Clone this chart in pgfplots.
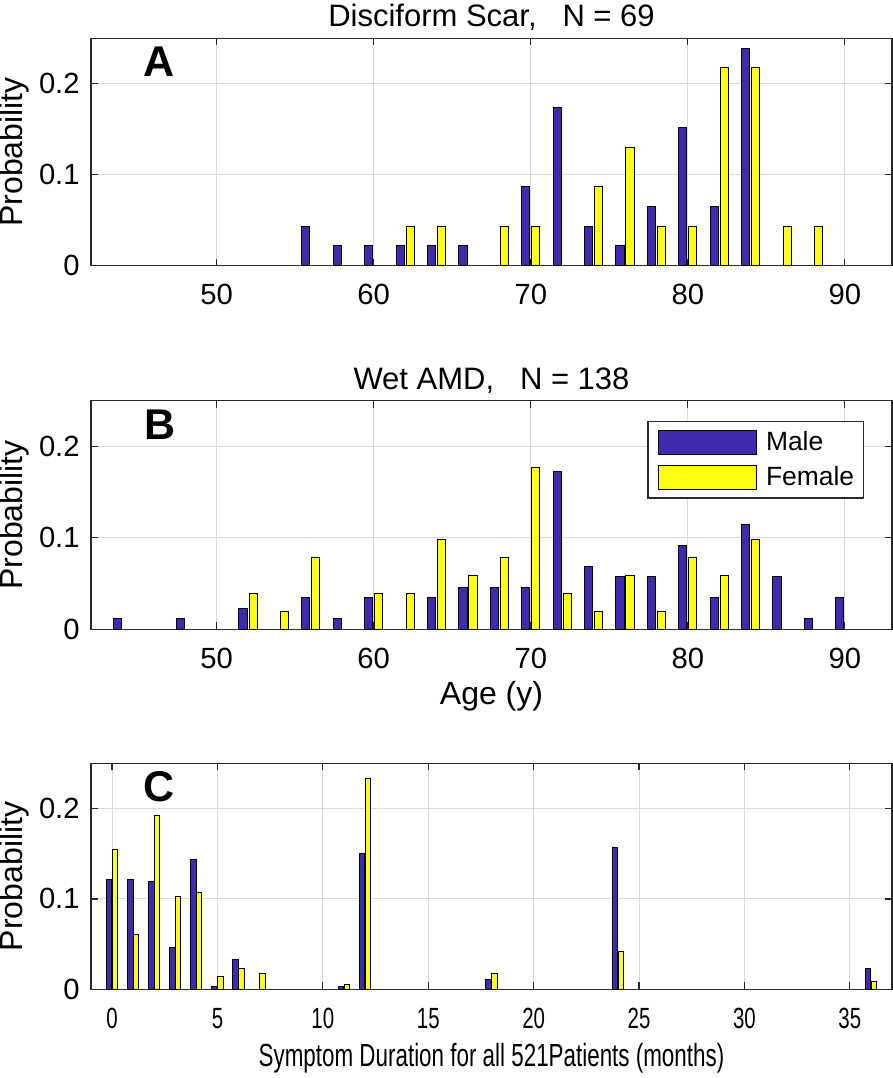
\documentclass[border=0pt]{standalone}
\usepackage{fontspec}
\setmainfont{Liberation Sans}
\newfontfamily\narrowfont{Liberation Sans}[FakeStretch=0.7]
\usepackage{pgfplots}
\pgfplotsset{compat=1.18}
\definecolor{malec}{RGB}{62,42,172}
\definecolor{femc}{RGB}{255,255,17}
\definecolor{axc}{RGB}{40,40,40}
\definecolor{gridc}{RGB}{218,218,218}

\pgfplotsset{
  panel/.style={
    scale only axis, width=400.5pt, anchor=south west,
    ymin=0, ymax=0.25, ytick={0,0.1,0.2},
    tick align=inside, xtick pos=both, ytick pos=both,
    major tick length=3.5pt,
    grid=major, major grid style={gridc, line width=0.5pt},
    axis line style={axc, line width=0.6pt},
    tick style={axc, line width=0.6pt},
    /pgf/number format/assume math mode=true,
    tick label style={font=\fontsize{14.6}{17}\selectfont, text=black},
    xticklabel style={anchor=base, yshift=-19.5pt},
    yticklabel style={anchor=east, inner sep=0pt, xshift=-5.5pt},
    ylabel={Probability},
    ylabel style={at={(axis description cs:-0.0961,0.5)}, anchor=center, font=\fontsize{16}{19}\selectfont},
    every axis title shift=0pt,
    title style={at={(axis description cs:0.5,1)}, anchor=base, yshift=5.8pt, font=\fontsize{15.5}{19}\selectfont},
    xlabel style={at={(axis description cs:0.5,0)}, anchor=base, font=\fontsize{16}{19}\selectfont},
  },
  mbar/.style={ybar, bar width=#1, fill=malec, draw=black, line width=0.5pt,
    legend image code/.code={\draw[fill=malec, draw=black, line width=0.6pt] (0pt,-6pt) rectangle (49pt,6pt);}},
  fbar/.style={ybar, bar width=#1, fill=femc, draw=black, line width=0.5pt,
    legend image code/.code={\draw[fill=femc, draw=black, line width=0.6pt] (0pt,-6pt) rectangle (49pt,6pt);}},
}

\begin{document}
\begin{tikzpicture}
\useasboundingbox (0,0) rectangle (446.5pt,539pt);

% ---------------- Panel A ----------------
\begin{axis}[panel, at={(45.5pt,406.15pt)}, height=113.7pt,
  xmin=42, xmax=93, xtick={50,60,70,80,90},
  title={Disciform Scar,\ \ \ N = 69}]
\addplot[mbar=0.52, bar shift=-0.32] coordinates {
 (56,0.0435) (58,0.0217) (60,0.0217) (62,0.0217) (64,0.0217) (66,0.0217)
 (70,0.0870) (72,0.1739) (74,0.0435) (76,0.0217) (78,0.0652) (80,0.1522)
 (82,0.0652) (84,0.2391)};
\addplot[fbar=0.52, bar shift=0.32] coordinates {
 (62,0.0435) (64,0.0435) (68,0.0435) (70,0.0435) (74,0.0870) (76,0.1304)
 (78,0.0435) (80,0.0435) (82,0.2174) (84,0.2174) (86,0.0435) (88,0.0435)};
\node[font=\bfseries\fontsize{21.5}{25}\selectfont] at (rel axis cs:0.0855,0.896) {A};
\end{axis}

% ---------------- Panel B ----------------
\begin{axis}[panel, at={(45.5pt,224.35pt)}, height=114.3pt,
  xmin=42, xmax=93, xtick={50,60,70,80,90},
  title={Wet AMD,\ \ \ N = 138},
  xlabel={Age (y)}, xlabel style={yshift=-37.85pt},
  legend style={at={(rel axis cs:0.9654,0.911)}, anchor=north east,
    draw=axc, line width=0.6pt, font=\fontsize{13.2}{15}\selectfont,
    inner xsep=4.8pt, inner ysep=4.15pt, row sep=4.7pt, column sep=4.65pt,
    nodes={inner sep=0pt}},
  legend cell align=left]
\addplot[mbar=0.52, bar shift=-0.32] coordinates {
 (44,0.0115) (48,0.0115) (52,0.0230) (56,0.0345) (58,0.0115) (60,0.0345)
 (64,0.0345) (66,0.0460) (68,0.0460) (70,0.0460) (72,0.1724) (74,0.0690)
 (76,0.0575) (78,0.0575) (80,0.0920) (82,0.0345) (84,0.1149) (86,0.0575)
 (88,0.0115) (90,0.0345)};
\addlegendentry{Male}
\addplot[fbar=0.52, bar shift=0.32] coordinates {
 (52,0.0392) (54,0.0196) (56,0.0784) (60,0.0392) (62,0.0392) (64,0.0980)
 (66,0.0588) (68,0.0784) (70,0.1765) (72,0.0392) (74,0.0196) (76,0.0588)
 (78,0.0196) (80,0.0784) (82,0.0588) (84,0.0980)};
\addlegendentry{Female}
\node[font=\bfseries\fontsize{21.5}{25}\selectfont] at (rel axis cs:0.086,0.896) {B};
\end{axis}

% ---------------- Panel C ----------------
\begin{axis}[panel, at={(45.5pt,44.35pt)}, height=113pt,
  xmin=-1, xmax=37, xtick={0,5,10,15,20,25,30,35},
  xticklabel style={font=\narrowfont\fontsize{14.6}{17}\selectfont},
  xlabel={Symptom Duration for all 521Patients (months)},
  xlabel style={yshift=-38.6pt, font=\narrowfont\fontsize{16}{19}\selectfont}]
\addplot[mbar=0.26, bar shift=-0.135] coordinates {
 (0,0.1215) (1,0.1215) (2,0.1190) (3,0.0460) (4,0.1440) (5,0.0033) (6,0.0326)
 (11,0.0033) (12,0.1500) (18,0.0104) (24,0.1567) (36,0.0233)};
\addplot[fbar=0.26, bar shift=0.135] coordinates {
 (0,0.1548) (1,0.0604) (2,0.1919) (3,0.1030) (4,0.1067) (5,0.0137) (6,0.0233)
 (7,0.0178) (11,0.0048) (12,0.2333) (18,0.0178) (24,0.0419) (36,0.0085)};
\node[font=\bfseries\fontsize{21.5}{25}\selectfont] at (rel axis cs:0.085,0.896) {C};
\end{axis}
\end{tikzpicture}
\end{document}
